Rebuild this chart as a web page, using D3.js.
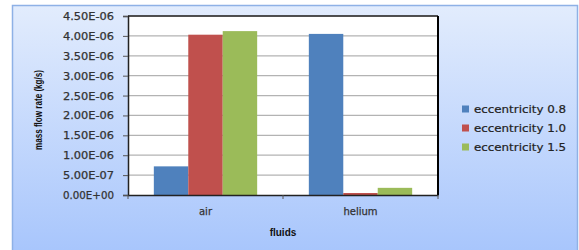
<!DOCTYPE html>
<html><head><meta charset="utf-8">
<script src="https://cdn.jsdelivr.net/npm/d3@7"></script>
<style>body{margin:0;background:#fff}svg{display:block}</style>
</head><body>
<svg id="c" width="579" height="250"></svg>
<script>
const categories = ["air", "helium"];
const seriesNames = ["eccentricity 0.8", "eccentricity 1.0", "eccentricity 1.5"];
const ecc08 = [7.2e-7, 4.05e-6];
const ecc10 = [4.03e-6, 5.0e-8];
const ecc15 = [4.12e-6, 1.8e-7];
const yTicks = [0, 5e-7, 1e-6, 1.5e-6, 2e-6, 2.5e-6, 3e-6, 3.5e-6, 4e-6, 4.5e-6];
const colors = ["#4f81bd", "#c0504d", "#9bbb59"];
const series = [ecc08, ecc10, ecc15];

const svg = d3.select("#c");
const defs = svg.append("defs");
const g = defs.append("linearGradient").attr("id","bg").attr("x1",0).attr("y1",0).attr("x2",0).attr("y2",1);
g.append("stop").attr("offset","0%").attr("stop-color","#e2ecfd");
g.append("stop").attr("offset","100%").attr("stop-color","#a7c5fc");
svg.append("rect").attr("x",12.5).attr("y",5.5).attr("width",565).attr("height",250)
  .attr("fill","url(#bg)").attr("stroke","#8eb1e6").attr("stroke-width",1.5);

const L=128, R=438, T=16, B=195;
const x0 = d3.scaleBand().domain(categories).range([L,R]).paddingInner(0).paddingOuter(0);
const xs = d3.scaleBand().domain(seriesNames).range([0,x0.bandwidth()]).paddingOuter(0.75).paddingInner(0);
const y = d3.scaleLinear().domain([0,4.5e-6]).range([B,T]);

svg.append("rect").attr("x",L).attr("y",T).attr("width",R-L).attr("height",B-T).attr("fill","#fff");
svg.append("g").selectAll("line").data(yTicks.slice(1)).join("line")
  .attr("x1",L).attr("x2",R).attr("y1",d=>y(d)).attr("y2",d=>y(d))
  .attr("stroke","#b3b3b3").attr("stroke-width",1.2);

// bars
categories.forEach((c,ci)=>{
  series.forEach((s,si)=>{
    svg.append("rect").attr("x",x0(c)+xs(seriesNames[si])).attr("width",xs.bandwidth())
      .attr("y",y(s[ci])).attr("height",B-y(s[ci])).attr("fill",colors[si]);
  });
});

// border top/right
svg.append("line").attr("x1",L).attr("x2",R).attr("y1",T).attr("y2",T).attr("stroke","#222").attr("stroke-width",1.5);
svg.append("line").attr("x1",R).attr("x2",R).attr("y1",T).attr("y2",B).attr("stroke","#000").attr("stroke-width",2);

// y axis
const fmt = d => { if(d===0) return "0.00E+00"; const e=Math.floor(Math.log10(d)); const m=d/Math.pow(10,e); return m.toFixed(2)+"E-"+String(-e).padStart(2,"0"); };
const ya = svg.append("g").attr("transform",`translate(${L},0)`)
  .call(d3.axisLeft(y).tickValues(yTicks).tickFormat(fmt).tickSize(5).tickPadding(9));
ya.select(".domain").attr("stroke","#222").attr("stroke-width",1.5);
ya.selectAll(".tick line").attr("stroke","#555");
ya.selectAll("text").attr("font-family","DejaVu Sans").attr("font-size",10).attr("fill","#333")
  .attr("stroke","#333").attr("stroke-width",0.25).attr("dy","0.35em")
  .attr("textLength",51).attr("lengthAdjust","spacingAndGlyphs");

// x axis
const xa = svg.append("g").attr("transform",`translate(0,${B})`)
  .call(d3.axisBottom(x0).tickSize(0).tickPadding(13));
xa.select(".domain").attr("stroke","#222").attr("stroke-width",1.5);
xa.selectAll("text").attr("font-family","DejaVu Sans").attr("font-size",10).attr("fill","#333")
  .attr("stroke","#333").attr("stroke-width",0.25);
svg.append("g").selectAll("line").data([L, L+x0.bandwidth(), R]).join("line")
  .attr("x1",d=>d).attr("x2",d=>d).attr("y1",B).attr("y2",B+4).attr("stroke","#555");

svg.append("text").attr("x",283).attr("y",236).attr("text-anchor","middle")
  .attr("font-family","Liberation Sans").attr("font-weight","bold").attr("font-size",10).attr("fill","#111").text("fluids");
svg.append("text").attr("transform","translate(42,110) rotate(-90)").attr("text-anchor","middle")
  .attr("font-family","Liberation Sans Narrow, Liberation Sans").attr("font-weight","bold").attr("font-size",10).attr("fill","#111")
  .attr("textLength",80).attr("lengthAdjust","spacingAndGlyphs").text("mass flow rate (kg/s)");

// legend
const lg = svg.append("g");
seriesNames.forEach((n,i)=>{
  const yy = 109 + i*19;
  lg.append("rect").attr("x",462).attr("y",yy-3.5).attr("width",7).attr("height",7).attr("fill",colors[i]);
  lg.append("text").attr("x",474).attr("y",yy).attr("dy","0.35em").attr("font-family","DejaVu Sans").attr("font-size",10.5)
    .attr("fill","#222").attr("stroke","#222").attr("stroke-width",0.2)
    .attr("textLength",92).attr("lengthAdjust","spacingAndGlyphs").text(n);
});
</script>
</body></html>
